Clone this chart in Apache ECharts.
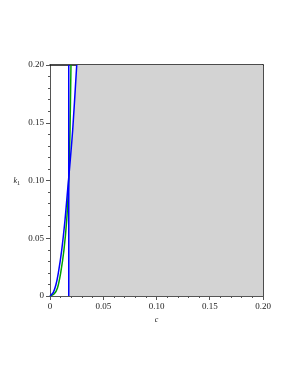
<!DOCTYPE html>
<html>
<head>
<meta charset="utf-8">
<script src="https://cdn.jsdelivr.net/npm/echarts@6/dist/echarts.min.js"></script>
<style>
html,body{margin:0;padding:0;background:#fff;}
#chart{width:291px;height:376px;}
</style>
</head>
<body>
<div id="chart"></div>
<script>
// Data
var xTicks = [0, 0.05, 0.10, 0.15, 0.20];
var yTicks = [0, 0.05, 0.10, 0.15, 0.20];
var blueCurveC = [0, 0.003, 0.0055, 0.0078, 0.0110, 0.0141, 0.0162, 0.0186, 0.0213, 0.0251];
var blueCurveK = [0, 0.003, 0.0095, 0.0199, 0.0398, 0.0658, 0.0880, 0.1130, 0.1437, 0.2000];
var greenCurveC = [0, 0.004, 0.007, 0.0100, 0.0131, 0.0157, 0.0172, 0.0181, 0.0188, 0.0197];
var greenCurveK = [0, 0.002, 0.007, 0.0199, 0.0398, 0.0658, 0.0918, 0.1150, 0.1437, 0.2000];
var verticalC = 0.0176;
var verticalK = [0, 0.20];
var xMin = 0, xMax = 0.20, yMin = 0, yMax = 0.20;

function zip(a, b) { return a.map(function (v, i) { return [v, b[i]]; }); }
var blueData = zip(blueCurveC, blueCurveK);
var greenData = zip(greenCurveC, greenCurveK);
var vlineData = verticalK.map(function (k) { return [verticalC, k]; });

// Boundary of shaded region: right of max(vertical line, blue curve)
function regionPoints() {
  var pts = [];
  var crossK = null;
  for (var i = 1; i < blueData.length; i++) {
    var a = blueData[i - 1], b = blueData[i];
    if (a[0] < verticalC && b[0] >= verticalC) {
      var t = (verticalC - a[0]) / (b[0] - a[0]);
      crossK = a[1] + t * (b[1] - a[1]);
    }
  }
  pts.push([verticalC, yMin]);
  pts.push([xMax, yMin]);
  pts.push([xMax, yMax]);
  for (var j = blueData.length - 1; j >= 0; j--) {
    if (blueData[j][0] >= verticalC) pts.push(blueData[j]);
  }
  pts.push([verticalC, crossK]);
  return pts;
}
var region = regionPoints();

function fmt(v) { return v === 0 ? '0' : v.toFixed(2); }

var labelFont = {fontFamily: 'Liberation Serif', fontSize: 9, color: '#222'};

var chart = echarts.init(document.getElementById('chart'), null, {renderer: 'canvas'});
chart.setOption({
  animation: false,
  backgroundColor: '#fff',
  grid: {left: 50, right: 28, top: 65, bottom: 80, containLabel: false},
  xAxis: [{
    type: 'value', min: xMin, max: xMax, interval: 0.05,
    axisLine: {show: true, onZero: false, lineStyle: {color: '#555', width: 1}},
    axisTick: {show: true, length: 4, lineStyle: {color: '#555'}},
    minorTick: {show: true, splitNumber: 5, length: 2, lineStyle: {color: '#555'}},
    splitLine: {show: false},
    axisLabel: Object.assign({margin: 6, formatter: fmt}, labelFont),
    name: 'c', nameLocation: 'middle', nameGap: 15,
    nameTextStyle: {fontFamily: 'Liberation Serif', fontStyle: 'italic', fontSize: 8, color: '#222'}
  }, {
    type: 'value', min: xMin, max: xMax, position: 'top',
    axisLine: {show: true, onZero: false, lineStyle: {color: '#111', width: 1.5}},
    axisTick: {show: false}, axisLabel: {show: false}, splitLine: {show: false}
  }],
  yAxis: [{
    type: 'value', min: yMin, max: yMax, interval: 0.05,
    axisLine: {show: true, onZero: false, lineStyle: {color: '#555', width: 1}},
    axisTick: {show: true, length: 4, lineStyle: {color: '#555'}},
    minorTick: {show: true, splitNumber: 5, length: 2, lineStyle: {color: '#555'}},
    splitLine: {show: false},
    axisLabel: Object.assign({margin: 6, formatter: fmt}, labelFont),
    name: '{k|k}{s|1}', nameLocation: 'middle', nameGap: 30, nameRotate: 0,
    nameTextStyle: {
      rich: {
        k: {fontFamily: 'Liberation Serif', fontStyle: 'italic', fontSize: 8, color: '#222'},
        s: {fontFamily: 'Liberation Serif', fontSize: 6, color: '#222', verticalAlign: 'bottom', padding: [6, 0, 0, 0]}
      }
    }
  }, {
    type: 'value', min: yMin, max: yMax, position: 'right',
    axisLine: {show: true, onZero: false, lineStyle: {color: '#111', width: 1.5}},
    axisTick: {show: false}, axisLabel: {show: false}, splitLine: {show: false}
  }],
  series: [{
    type: 'custom',
    xAxisIndex: 0, yAxisIndex: 0,
    z: 1,
    silent: true,
    clip: true,
    data: [0],
    renderItem: function (params, api) {
      var pts = region.map(function (p) { return api.coord(p); });
      return {type: 'polygon', shape: {points: pts}, style: {fill: '#d3d3d3', stroke: null}};
    }
  }, {
    type: 'line', data: greenData, xAxisIndex: 0, yAxisIndex: 0, z: 3, clip: true,
    showSymbol: false, smooth: 0.3, lineStyle: {color: '#00a000', width: 1.5}
  }, {
    type: 'line', data: blueData, xAxisIndex: 0, yAxisIndex: 0, z: 4, clip: true,
    showSymbol: false, smooth: 0.3, lineStyle: {color: '#0000ff', width: 1.5}
  }, {
    type: 'custom',
    xAxisIndex: 0, yAxisIndex: 0,
    z: 4, silent: true, clip: true,
    data: [0],
    renderItem: function (params, api) {
      var p0 = api.coord(vlineData[0]), p1 = api.coord(vlineData[1]);
      return {type: 'line', shape: {x1: p0[0], y1: p0[1], x2: p1[0], y2: p1[1]},
              style: {stroke: '#0000ff', lineWidth: 1.5}};
    }
  }]
});
</script>
</body>
</html>
